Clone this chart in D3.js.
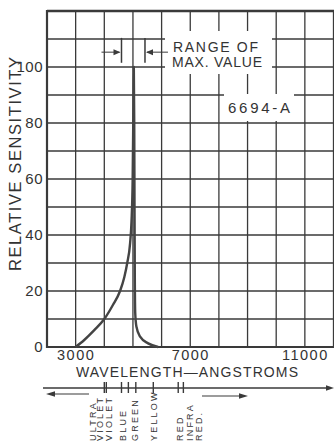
<!DOCTYPE html>
<html><head><meta charset="utf-8">
<script src="https://cdn.jsdelivr.net/npm/d3@7"></script>
<style>
html,body{margin:0;padding:0;background:#fff;}
svg{display:block;}
text{font-family:"Liberation Sans",Arial,sans-serif;fill:#333;}
</style></head>
<body>
<svg id="chart" width="334" height="446"></svg>
<script>
// ---- data ----
const wavelength  = [3000, 3300, 3650, 4000, 4300, 4550, 4700, 4800, 4900, 4950, 4990, 5020, 5030, 5045, 5055, 5065, 5080, 5120, 5250, 5530, 5880];
const sensitivity = [0,    2.5,  6,    10,   15,   20,   25,   30,   37,   45,   60,   90,   100,  80,   50,   25,   12,   7.3,  3.7,  1.3,  0];
const yTickValues = [0, 20, 40, 60, 80, 100];
const xTickLabels = [3000, 7000, 11000];
const rangeOfMax = [4600, 5420];
const bandEdges = [4000, 4070, 4600, 4840, 5100, 5710, 6580, 6760];
const bandLabels = ["ULTRA", "VIOLET", "VIOLET", "BLUE", "GREEN", "YELLOW", "RED", "INFRA", "RED."];
const bandLabelPos = [3580, 3850, 4140, 4630, 5070, 5710, 6640, 6990, 7280];

const ink = "#3a3a3a";
const svg = d3.select("#chart");
const x = d3.scaleLinear().domain([2000, 12000]).range([47, 333.5]);
const y = d3.scaleLinear().domain([0, 120]).range([347, 11]);

// grid
const g = svg.append("g");
g.selectAll("line.v").data(d3.range(3000, 12001, 1000)).enter().append("line")
  .attr("x1", d => x(d)).attr("x2", d => x(d)).attr("y1", y(120)).attr("y2", y(0))
  .attr("stroke", ink).attr("stroke-width", 1.3);
g.selectAll("line.h").data(d3.range(10, 111, 10)).enter().append("line")
  .attr("x1", x(2000)).attr("x2", 334).attr("y1", d => y(d)).attr("y2", d => y(d))
  .attr("stroke", ink).attr("stroke-width", 1.3);
// borders
svg.append("line").attr("x1", x(2000)).attr("x2", 334).attr("y1", y(120)).attr("y2", y(120)).attr("stroke", ink).attr("stroke-width", 2.4);
svg.append("line").attr("x1", x(2000)).attr("x2", 334).attr("y1", y(0)).attr("y2", y(0)).attr("stroke", ink).attr("stroke-width", 1.8);
svg.append("line").attr("x1", x(2000)).attr("x2", x(2000)).attr("y1", y(120) - 1).attr("y2", y(0) + 1).attr("stroke", ink).attr("stroke-width", 2.2);

// annotation boxes and text
function boxedText(lines, xs, ys, size, lens, pad) {
  const grp = svg.append("g");
  const rect = grp.append("rect").attr("fill", "#fff");
  lines.forEach((t, i) => {
    grp.append("text").attr("x", xs[i]).attr("y", ys[i]).attr("font-size", size)
      .attr("textLength", lens[i]).attr("lengthAdjust", "spacing").text(t);
  });
  const bb = grp.node().getBBox();
  rect.attr("x", bb.x - pad[0]).attr("y", bb.y - pad[1]).attr("width", bb.width + pad[0] + pad[2]).attr("height", bb.height + pad[1] + pad[3]);
}
boxedText(["RANGE OF", "MAX. VALUE"], [173, 172], [52, 67], 14, [85, 90], [7, 8, 10, 4]);
boxedText(["6694-A"], [228], [113], 15, [62], [4, 5, 4, 5]);

// range of max markers
const rm = svg.append("g").attr("stroke", ink).attr("fill", ink);
rangeOfMax.forEach(v => {
  rm.append("line").attr("x1", x(v)).attr("x2", x(v)).attr("y1", y(110.4)).attr("y2", y(101.5)).attr("stroke-width", 1.5);
});
const ay = y(105.3);
rm.append("line").attr("x1", x(rangeOfMax[0]) - 20).attr("x2", x(rangeOfMax[0]) - 2).attr("y1", ay).attr("y2", ay).attr("stroke-width", 1);
rm.append("path").attr("d", `M${x(rangeOfMax[0]) - 1},${ay} l-7,-3 l0,6 z`).attr("stroke", "none");
rm.append("line").attr("x1", x(rangeOfMax[1]) + 2).attr("x2", x(rangeOfMax[1]) + 23).attr("y1", ay).attr("y2", ay).attr("stroke-width", 1);
rm.append("path").attr("d", `M${x(rangeOfMax[1]) + 1},${ay} l7,-3 l0,6 z`).attr("stroke", "none");

// curve
const pts = wavelength.map((w, i) => [w, sensitivity[i]]);
const line = d3.line().x(d => x(d[0])).y(d => y(d[1])).curve(d3.curveMonotoneX);
svg.append("path").datum(pts).attr("d", line).attr("fill", "none")
  .attr("stroke", "#444").attr("stroke-width", 2.4).attr("stroke-linejoin", "round");

// y axis labels
const yAxis = d3.axisLeft(y).tickValues(yTickValues).tickSize(0).tickPadding(4);
const ya = svg.append("g").attr("transform", `translate(${x(2000)},0)`).call(yAxis);
ya.select(".domain").remove();
ya.selectAll("text").attr("font-size", 15).attr("fill", "#333")
  .style("font-family", "Liberation Sans, Arial, sans-serif").attr("letter-spacing", 0.5);

// x axis labels
const xAxis = d3.axisBottom(x).tickValues(xTickLabels).tickSize(0).tickPadding(3).tickFormat(d3.format("d"));
const xa = svg.append("g").attr("transform", `translate(0,${y(0)})`).call(xAxis);
xa.select(".domain").remove();
xa.selectAll("text").attr("font-size", 14.5).attr("fill", "#333").attr("dy", "0.71em")
  .style("font-family", "Liberation Sans, Arial, sans-serif").attr("letter-spacing", 1.5);

// axis titles
svg.append("text").attr("x", 187).attr("y", 377).attr("text-anchor", "middle").attr("font-size", 14)
  .attr("textLength", 222).attr("lengthAdjust", "spacing").text("WAVELENGTH—ANGSTROMS");
svg.append("text").attr("transform", "translate(21,164) rotate(-90)").attr("text-anchor", "middle")
  .attr("font-size", 16.5).attr("textLength", 214).attr("lengthAdjust", "spacing").text("RELATIVE SENSITIVITY");

// spectrum bar
const sb = svg.append("g").attr("stroke", ink).attr("fill", ink);
sb.append("line").attr("x1", 43).attr("x2", 328).attr("y1", 388).attr("y2", 388).attr("stroke-width", 1.6);
sb.append("path").attr("d", "M334,388 l-8,-2.8 l0,5.6 z").attr("stroke", "none");
sb.selectAll("line.t").data(bandEdges).enter().append("line")
  .attr("x1", d => x(d)).attr("x2", d => x(d)).attr("y1", 382).attr("y2", 393).attr("stroke-width", 1.4);
sb.append("line").attr("x1", 54).attr("x2", 89).attr("y1", 394).attr("y2", 394).attr("stroke-width", 1.2);
sb.append("path").attr("d", "M46,394 l9,-2.8 l0,5.6 z").attr("stroke", "none");
sb.append("line").attr("x1", 202).attr("x2", 240).attr("y1", 396).attr("y2", 396).attr("stroke-width", 1.2);
sb.append("path").attr("d", "M248,396 l-9,-2.8 l0,5.6 z").attr("stroke", "none");

svg.selectAll("text.band").data(bandLabels).enter().append("text")
  .attr("transform", (d, i) => `translate(${x(bandLabelPos[i])},441) rotate(-90)`)
  .attr("dy", "0.36em").attr("font-size", 9).attr("letter-spacing", 2.2).text(d => d);
</script>
</body></html>
